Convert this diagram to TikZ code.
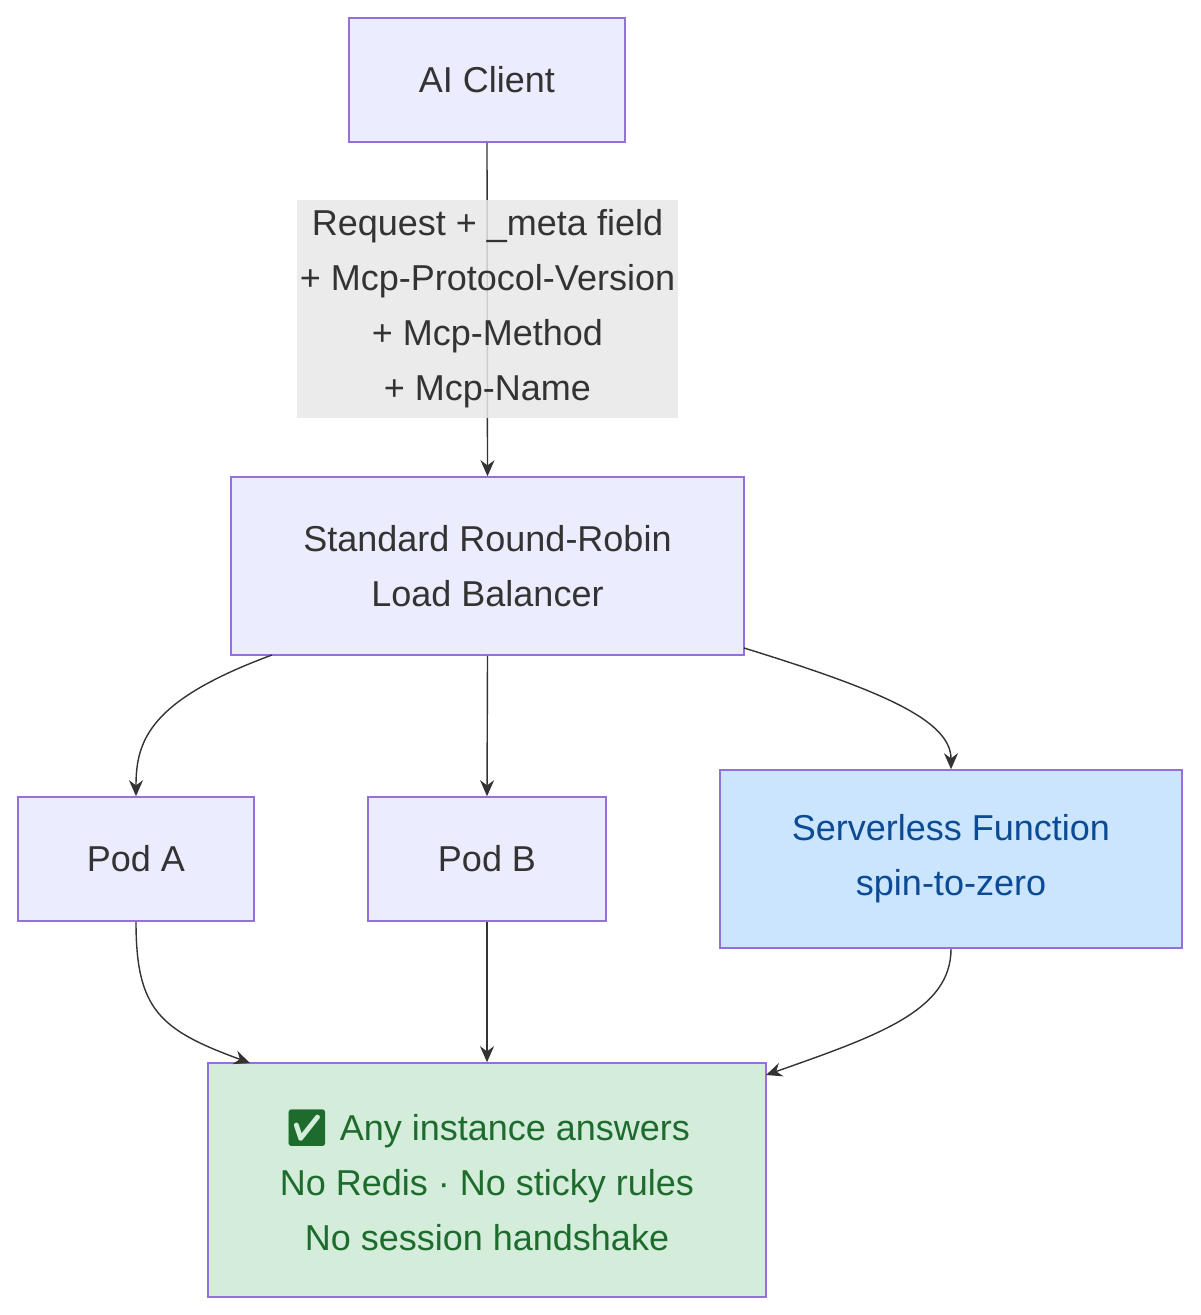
\documentclass[tikz,border=0pt]{standalone}
\usepackage{fontspec}
\setmainfont{Liberation Sans}
\newfontfamily\emojifont{Noto Emoji}
\usetikzlibrary{arrows.meta,calc}
\definecolor{mfill}{HTML}{ECECFF}
\definecolor{mstroke}{HTML}{9370DB}
\definecolor{mtext}{HTML}{333333}
\definecolor{sfill}{HTML}{CCE5FF}
\definecolor{stext}{HTML}{0B4A94}
\definecolor{gfill}{HTML}{D4EDDA}
\definecolor{gtext}{HTML}{1E6B2E}
\begin{document}
\begin{tikzpicture}[x=0.5pt,y=-0.5pt,
  box/.style={draw=mstroke,fill=mfill,line width=0.8pt,text=mtext,font=\fontsize{18}{27.5}\selectfont,align=center,inner sep=0pt},
  conn/.style={draw=mtext,line width=0.7pt,-{Stealth[length=8pt,width=7pt]}}]
\useasboundingbox (0,0) rectangle (1200,1315);
\node[box,minimum width=276*0.5pt,minimum height=124*0.5pt] (ai) at (487,80) {AI Client};
\node[box,minimum width=513*0.5pt,minimum height=178*0.5pt] (lb) at (487.5,566) {Standard Round-Robin\\Load Balancer};
\node[box,minimum width=236*0.5pt,minimum height=124*0.5pt] (pa) at (136,859) {Pod A};
\node[box,minimum width=238*0.5pt,minimum height=124*0.5pt] (pb) at (487,859) {Pod B};
\node[box,fill=sfill,text=stext,minimum width=462*0.5pt,minimum height=178*0.5pt] (sf) at (951,859) {Serverless Function\\spin-to-zero};
\node[box,fill=gfill,text=gtext,minimum width=558*0.5pt,minimum height=234*0.5pt] (ok) at (487,1180) {{\emojifont ✅} Any instance answers\\No Redis · No sticky rules\\No session handshake};
\draw[conn] (ai.south) -- (lb.north);
\node[fill=black!9,text=mtext,font=\fontsize{18}{27.5}\selectfont,align=center,minimum width=381*0.5pt,minimum height=218*0.5pt,inner sep=0pt,opacity=0.85,text opacity=1] (lbl) at (487.5,309) {Request + \_meta field\\+ Mcp-Protocol-Version\\+ Mcp-Method\\+ Mcp-Name};
\coordinate (a1) at (272,655);
\draw[conn] (a1) .. controls (150,700) and (136,740) .. (pa.north);
\draw[conn] (lb.south) -- (pb.north);
\coordinate (a2) at (744,648);
\draw[conn] (a2) .. controls (880,690) and (951,720) .. (sf.north);
\coordinate (b1) at (250,1063);
\draw[conn] (pa.south) .. controls (136,1010) and (160,1030) .. (b1);
\draw[conn] (pb.south) -- (ok.north);
\coordinate (b2) at (766,1075);
\draw[conn] (sf.south) .. controls (951,1010) and (880,1035) .. (b2);
\end{tikzpicture}
\end{document}
